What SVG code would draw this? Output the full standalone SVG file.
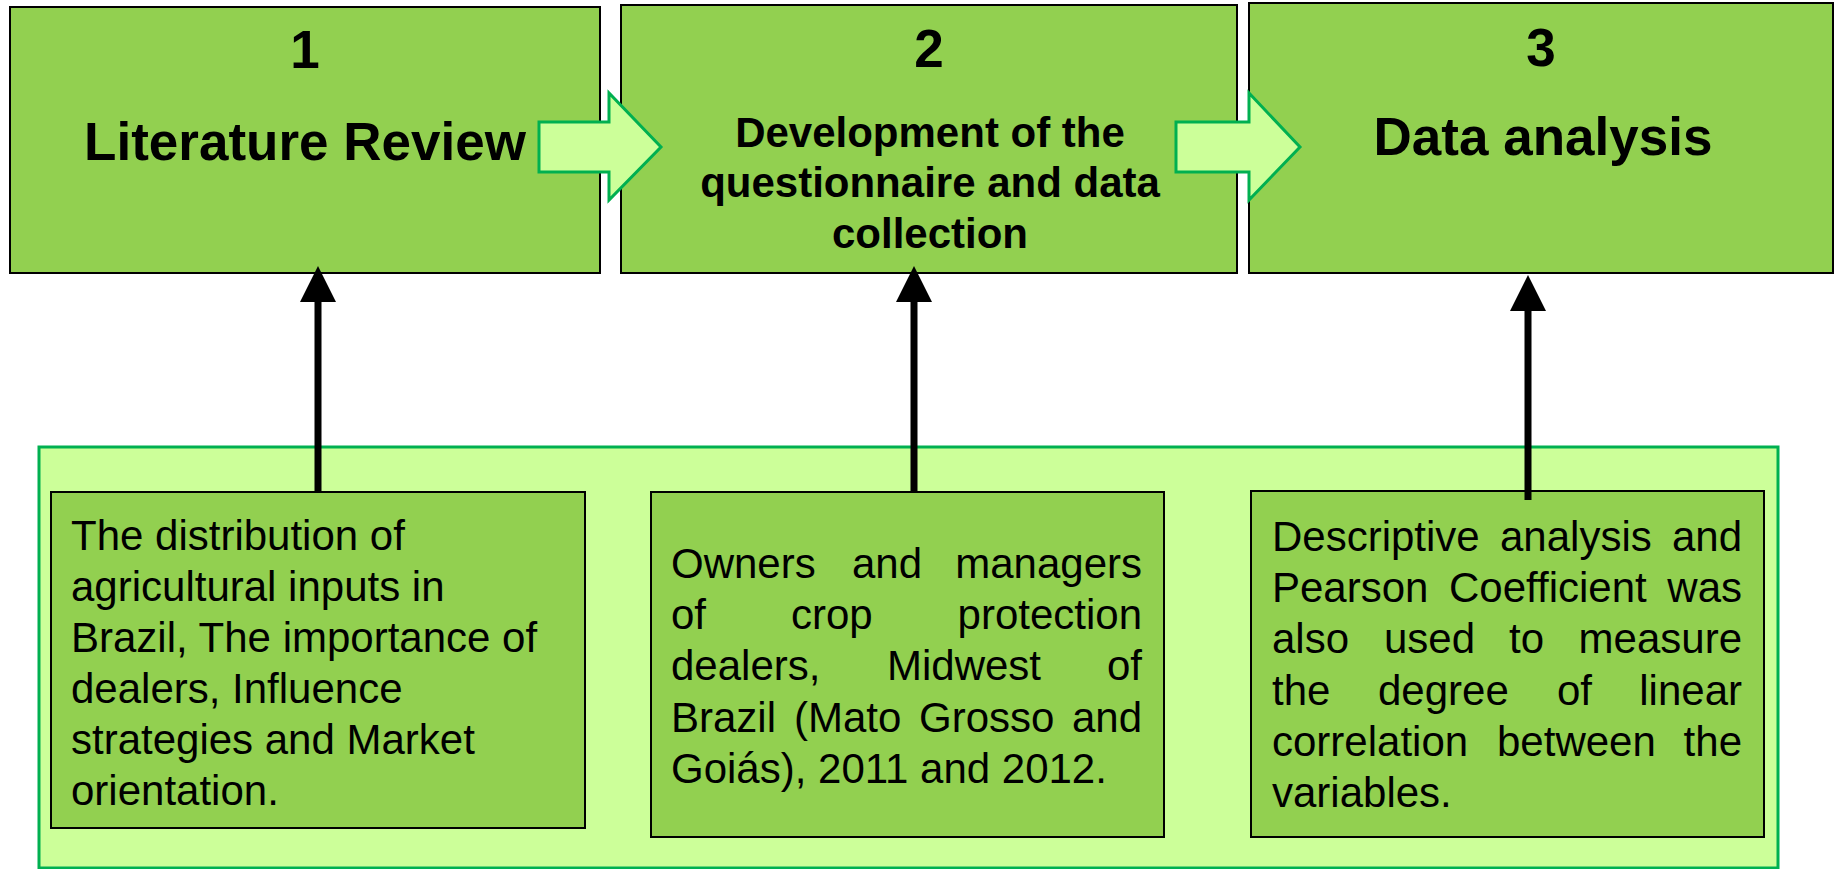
<svg xmlns="http://www.w3.org/2000/svg" width="1835" height="869" viewBox="0 0 1835 869">
  <style>
    .step { fill: #92D050; stroke: #000; stroke-width: 2; }
    .detail { fill: #92D050; stroke: #000; stroke-width: 2; }
    .panel { fill: #CCFF99; stroke: #00B050; stroke-width: 3; }
    .flow { fill: #CCFF99; stroke: #00B050; stroke-width: 3; stroke-linejoin: miter; }
    .num { font-family: "Liberation Sans", Arial, sans-serif; font-weight: bold; font-size: 53px; fill: #000; text-anchor: middle; }
    .title { font-family: "Liberation Sans", Arial, sans-serif; font-weight: bold; font-size: 53px; fill: #000; text-anchor: middle; }
    .title2 { font-family: "Liberation Sans", Arial, sans-serif; font-weight: bold; font-size: 42px; fill: #000; text-anchor: middle; }
    .body { font-family: "Liberation Sans", Arial, sans-serif; font-size: 42px; fill: #000; }
    .end { text-anchor: end; }
    .link { stroke: #000; stroke-width: 7; fill: none; }
  </style>
  <defs>
    <polygon id="head" points="0,0 -18,36 18,36" fill="#000"/>
  </defs>

  <rect width="1835" height="869" fill="#fff"/>

  <!-- background panel behind the detail boxes -->
  <g id="panel">
    <rect class="panel" x="39" y="447" width="1739" height="421"/>
  </g>

  <!-- step 1 -->
  <g id="step1">
    <rect class="step" x="10" y="7" width="590" height="266"/>
    <text class="num" x="305" y="68">1</text>
    <text class="title" x="305" y="160">Literature Review</text>
  </g>

  <!-- step 2 -->
  <g id="step2">
    <rect class="step" x="621" y="5" width="616" height="268"/>
    <text class="num" x="929" y="67">2</text>
    <text class="title2" x="930" y="147">Development of the</text>
    <text class="title2" x="930" y="197">questionnaire and data</text>
    <text class="title2" x="930" y="248">collection</text>
  </g>

  <!-- step 3 -->
  <g id="step3">
    <rect class="step" x="1249" y="3" width="584" height="270"/>
    <text class="num" x="1541" y="66">3</text>
    <text class="title" x="1543" y="155">Data analysis</text>
  </g>

  <!-- detail 1 -->
  <g id="detail1">
    <rect class="detail" x="51" y="492" width="534" height="336"/>
    <text class="body" x="71" y="550">The distribution of</text>
    <text class="body" x="71" y="601">agricultural inputs in</text>
    <text class="body" x="71" y="652">Brazil, The importance of</text>
    <text class="body" x="71" y="703">dealers, Influence</text>
    <text class="body" x="71" y="754">strategies and Market</text>
    <text class="body" x="71" y="805">orientation.</text>
  </g>

  <!-- detail 2 (justified lines) -->
  <g id="detail2">
    <rect class="detail" x="651" y="492" width="513" height="345"/>
    <text class="body" y="578"><tspan x="671">Owners</tspan><tspan x="852">and</tspan></text>
    <text class="body end" x="1142" y="578">managers</text>
    <text class="body" y="629"><tspan x="671">of</tspan><tspan x="791">crop</tspan></text>
    <text class="body end" x="1142" y="629">protection</text>
    <text class="body" y="680"><tspan x="671">dealers,</tspan><tspan x="887">Midwest</tspan></text>
    <text class="body end" x="1142" y="680">of</text>
    <text class="body" y="732"><tspan x="671">Brazil</tspan><tspan x="794">(Mato</tspan><tspan x="919">Grosso</tspan></text>
    <text class="body end" x="1142" y="732">and</text>
    <text class="body" x="671" y="783">Goiás), 2011 and 2012.</text>
  </g>

  <!-- detail 3 (justified lines) -->
  <g id="detail3">
    <rect class="detail" x="1251" y="491" width="513" height="346"/>
    <text class="body" y="551"><tspan x="1272">Descriptive</tspan><tspan x="1500">analysis</tspan></text>
    <text class="body end" x="1742" y="551">and</text>
    <text class="body" y="602"><tspan x="1272">Pearson</tspan><tspan x="1449">Coefficient</tspan></text>
    <text class="body end" x="1742" y="602">was</text>
    <text class="body" y="653"><tspan x="1272">also</tspan><tspan x="1384">used</tspan><tspan x="1509">to</tspan></text>
    <text class="body end" x="1742" y="653">measure</text>
    <text class="body" y="705"><tspan x="1272">the</tspan><tspan x="1378">degree</tspan><tspan x="1557">of</tspan></text>
    <text class="body end" x="1742" y="705">linear</text>
    <text class="body" y="756"><tspan x="1272">correlation</tspan><tspan x="1497">between</tspan></text>
    <text class="body end" x="1742" y="756">the</text>
    <text class="body" x="1272" y="807">variables.</text>
  </g>

  <!-- connectors -->
  <g id="connectors">
    <!-- block arrows between steps -->
    <polygon class="flow" points="539,122 609,122 609,93 661,147 609,200 609,172 539,172"/>
    <polygon class="flow" points="1176,122 1249,122 1249,93 1300,147 1249,200 1249,172 1176,172"/>
    <!-- vertical links from details up to steps -->
    <line class="link" x1="318" y1="492" x2="318" y2="300"/>
    <use href="#head" x="318" y="266"/>
    <line class="link" x1="914" y1="492" x2="914" y2="300"/>
    <use href="#head" x="914" y="266"/>
    <line class="link" x1="1528" y1="500" x2="1528" y2="308"/>
    <use href="#head" x="1528" y="275"/>
  </g>
</svg>
